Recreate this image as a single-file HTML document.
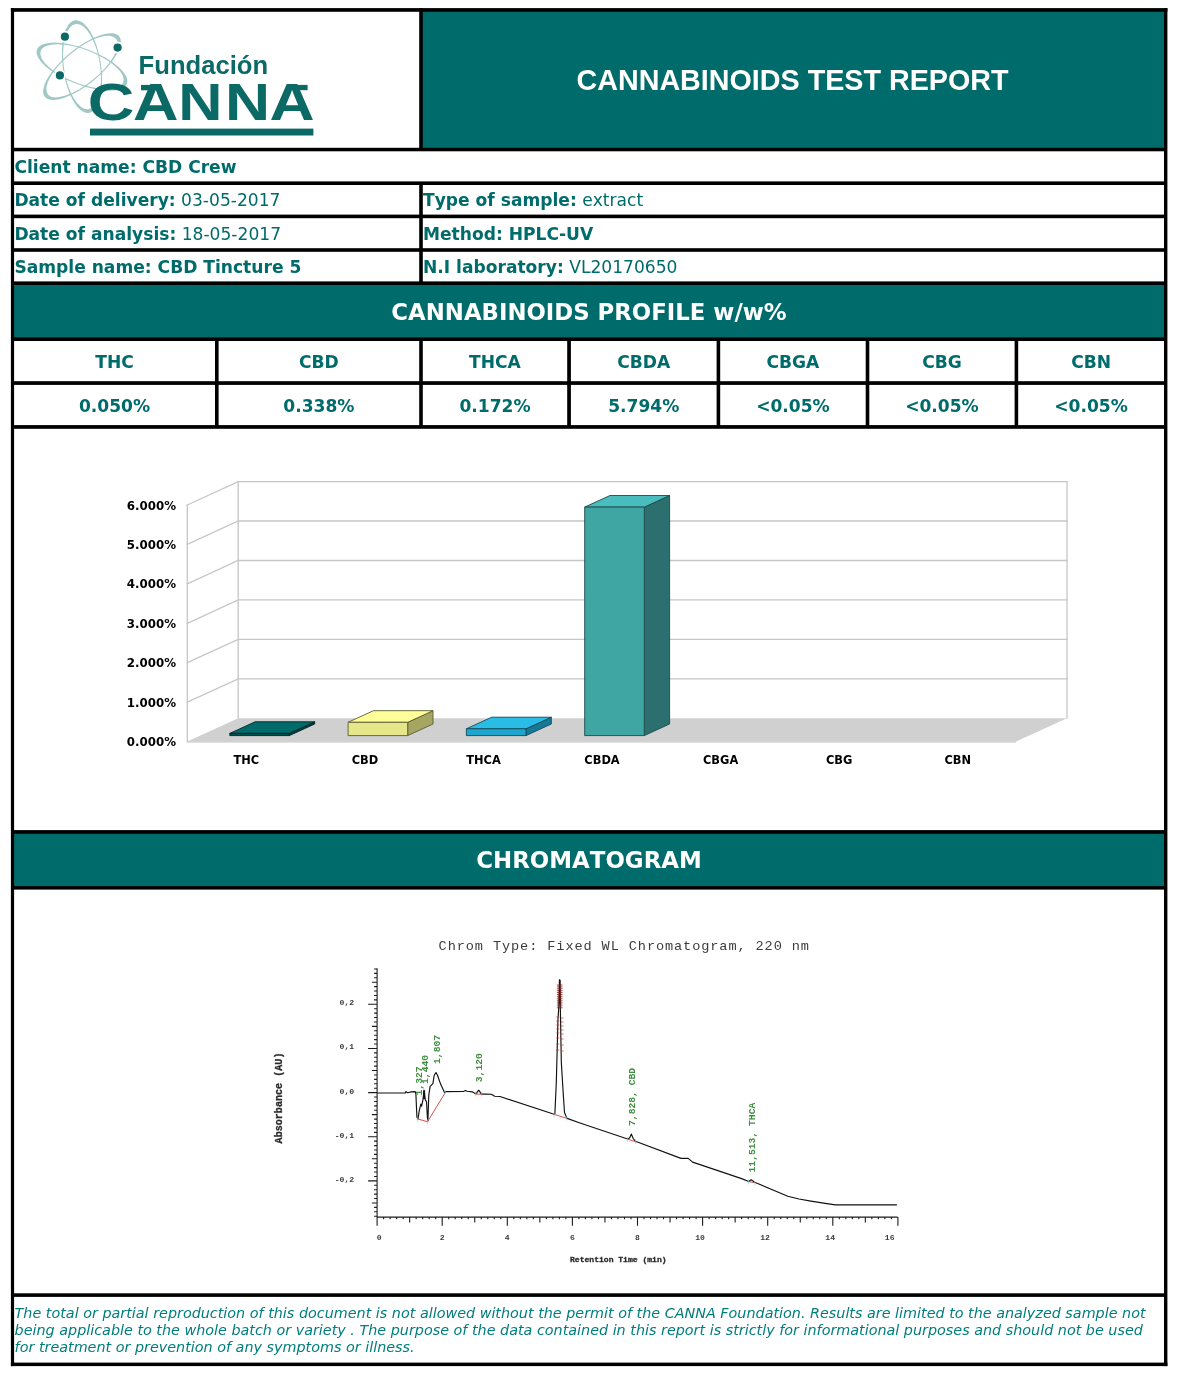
<!DOCTYPE html>
<html lang="en">
<head>
<meta charset="utf-8">
<title>Cannabinoids Test Report</title>
<style>
  html,body{margin:0;padding:0;background:#fff;}
  body{font-kerning:none;width:1178px;height:1381px;position:relative;overflow:hidden;font-family:"DejaVu Sans","Liberation Sans",sans-serif;color:#006b6b;}
  #frame{position:absolute;left:0;top:0;}
  .t{position:absolute;white-space:nowrap;font-size:17.1px;line-height:20px;height:20px;}
  .t b{font-weight:bold;}
  .c{text-align:center;font-weight:bold;}
  .band{position:absolute;color:#fff;font-weight:bold;text-align:center;white-space:nowrap;}
  #title{font-family:"Liberation Sans","DejaVu Sans",sans-serif;font-size:28.7px;line-height:32px;left:422px;width:741px;top:63.9px;}
  #foot{position:absolute;left:14.6px;top:1304.6px;font-size:14.35px;line-height:17px;font-style:italic;color:#007d7d;white-space:nowrap;}
  svg text{font-family:"DejaVu Sans","Liberation Sans",sans-serif;}
  svg .lib text{font-family:"Liberation Sans","DejaVu Sans",sans-serif;font-weight:bold;}
  svg .mono text, svg text.mono{font-family:"Liberation Mono","DejaVu Sans Mono",monospace;}
</style>
</head>
<body>
<!-- FRAME -->
<svg id="frame" width="1178" height="1381" viewBox="0 0 1178 1381">
  <g fill="#006b6b">
    <rect x="421" y="10" width="745" height="140"/>
    <rect x="12" y="283" width="1154" height="57"/>
    <rect x="12" y="832" width="1154" height="56"/>
  </g>
  <g fill="#000">
    <!-- outer -->
    <rect x="10.9" y="8.1" width="1156.5" height="3.7"/>
    <rect x="10.9" y="1362.6" width="1156.5" height="3.5"/>
    <rect x="10.9" y="8.1" width="3.2" height="1358"/>
    <rect x="1164" y="8.1" width="3.4" height="1358"/>
    <!-- horizontals -->
    <rect x="11" y="147.8" width="1156" height="3.5"/>
    <rect x="11" y="181.4" width="1156" height="3.6"/>
    <rect x="11" y="214.6" width="1156" height="3.6"/>
    <rect x="11" y="248.2" width="1156" height="3.6"/>
    <rect x="11" y="281.4" width="1156" height="3.6"/>
    <rect x="11" y="337.4" width="1156" height="3.6"/>
    <rect x="11" y="381.2" width="1156" height="3.7"/>
    <rect x="11" y="425.1" width="1156" height="3.7"/>
    <rect x="11" y="830.1" width="1156" height="3.7"/>
    <rect x="11" y="886.1" width="1156" height="3.5"/>
    <rect x="11" y="1293.3" width="1156" height="3.6"/>
    <!-- verticals -->
    <rect x="419.2" y="8.1" width="3.6" height="141"/>
    <rect x="419.2" y="183" width="3.6" height="100"/>
    <rect x="215" y="339" width="3.6" height="88"/>
    <rect x="419.2" y="339" width="3.6" height="88"/>
    <rect x="567.2" y="339" width="3.7" height="88"/>
    <rect x="716.6" y="339" width="3.6" height="88"/>
    <rect x="865.7" y="339" width="3.6" height="88"/>
    <rect x="1014.6" y="339" width="3.6" height="88"/>
  </g>
</svg>

<!-- HEADER TEXT -->
<div class="band" id="title">CANNABINOIDS TEST REPORT</div>
<div class="t" style="left:14.4px;top:157px"><b>Client name: CBD Crew</b></div>
<div class="t" style="left:14.4px;top:190.2px"><b>Date of delivery:</b> 03-05-2017</div>
<div class="t" style="left:423px;top:190.2px"><b>Type of sample:</b> extract</div>
<div class="t" style="left:14.4px;top:223.8px"><b>Date of analysis:</b> 18-05-2017</div>
<div class="t" style="left:423px;top:223.8px"><b>Method: HPLC-UV</b></div>
<div class="t" style="left:14.4px;top:257.1px"><b>Sample name: CBD Tincture 5</b></div>
<div class="t" style="left:423px;top:257.1px"><b>N.I laboratory:</b> VL20170650</div>

<div class="band" style="left:12px;width:1154px;top:298px;font-size:22.8px;line-height:28px;">CANNABINOIDS PROFILE w/w%</div>

<!-- PROFILE TABLE -->
<div class="t c" style="left:14px;width:201px;top:351.8px">THC</div>
<div class="t c" style="left:218.6px;width:200.6px;top:351.8px">CBD</div>
<div class="t c" style="left:422.8px;width:144.4px;top:351.8px">THCA</div>
<div class="t c" style="left:571px;width:145.6px;top:351.8px">CBDA</div>
<div class="t c" style="left:720.2px;width:145.5px;top:351.8px">CBGA</div>
<div class="t c" style="left:869.3px;width:145.3px;top:351.8px">CBG</div>
<div class="t c" style="left:1018.2px;width:145.8px;top:351.8px">CBN</div>
<div class="t c" style="left:14px;width:201px;top:395.9px">0.050%</div>
<div class="t c" style="left:218.6px;width:200.6px;top:395.9px">0.338%</div>
<div class="t c" style="left:422.8px;width:144.4px;top:395.9px">0.172%</div>
<div class="t c" style="left:571px;width:145.6px;top:395.9px">5.794%</div>
<div class="t c" style="left:720.2px;width:145.5px;top:395.9px">&lt;0.05%</div>
<div class="t c" style="left:869.3px;width:145.3px;top:395.9px">&lt;0.05%</div>
<div class="t c" style="left:1018.2px;width:145.8px;top:395.9px">&lt;0.05%</div>

<div class="band" style="left:12px;width:1154px;top:845.8px;font-size:22.9px;line-height:28px;">CHROMATOGRAM</div>

<!-- LOGO -->
<svg style="position:absolute;left:14px;top:12px" width="405" height="136" viewBox="14 12 405 136">
  <g fill="#a0c9c6" fill-rule="evenodd">
    <path transform="translate(82.0,66.6) rotate(81.5)" d="M-46.90,0 A46.90,19.10 0 1 0 46.90,0 A46.90,19.10 0 1 0 -46.90,0 Z M-43.00,0 A43.00,18.05 0 1 0 43.00,0 A43.00,18.05 0 1 0 -43.00,0 Z"/>
    <path transform="translate(82.0,66.6) rotate(-39.2)" d="M-47.90,0 A47.90,18.10 0 1 0 47.90,0 A47.90,18.10 0 1 0 -47.90,0 Z M-44.00,0 A44.00,17.05 0 1 0 44.00,0 A44.00,17.05 0 1 0 -44.00,0 Z"/>
    <path transform="translate(82.0,66.6) rotate(20.9)" d="M-48.10,0 A48.10,18.10 0 1 0 48.10,0 A48.10,18.10 0 1 0 -48.10,0 Z M-44.20,0 A44.20,17.05 0 1 0 44.20,0 A44.20,17.05 0 1 0 -44.20,0 Z"/>
  </g>
  <g fill="#fff"><circle cx="64.9" cy="36.7" r="6"/><circle cx="117.6" cy="47.6" r="6"/><circle cx="59.9" cy="75.4" r="6"/></g>
  <g fill="#0b6a66">
    <circle cx="64.9" cy="36.7" r="4.1"/>
    <circle cx="117.6" cy="47.6" r="4.1"/>
    <circle cx="59.9" cy="75.4" r="4.1"/>
    <rect x="90" y="128.6" width="223.4" height="6.9"/>
    <rect x="141" y="84.9" width="19" height="5.4"/>
    <rect x="292" y="84.9" width="15.6" height="5.3"/>
    <g class="lib">
      <text x="138.6" y="73.5" font-size="25.1" textLength="129.6" lengthAdjust="spacingAndGlyphs">Fundación</text>
      <g font-size="51.5">
        <text transform="translate(87.66,120.2) scale(1.252,1)">C</text>
        <text transform="translate(133.0,120.2) scale(1.224,1)">A</text>
        <text transform="translate(178.3,120.2) scale(1.189,1)">N</text>
        <text transform="translate(225.0,120.2) scale(1.212,1)">N</text>
        <text transform="translate(269.6,120.2) scale(1.213,1)">A</text>
      </g>
    </g>
  </g>
</svg>

<!-- BAR CHART -->
<!--BC0--><svg style="position:absolute;left:14px;top:429px" width="1150" height="401" viewBox="14 429 1150 401">
<polygon points="187.3,741.6 1016.1,741.6 1067.0,718.2 238.2,718.2" fill="#d0d0d0"/>
<line x1="187.3" y1="742.0" x2="1016.1" y2="742.0" stroke="#c2c2c2" stroke-width="1.2"/>
<g stroke="#c6c6c6" stroke-width="1.3" fill="none" stroke-linecap="square">
<path d="M187.3,702.2 L238.2,678.8 L1067.0,678.8"/>
<path d="M187.3,662.7 L238.2,639.3 L1067.0,639.3"/>
<path d="M187.3,623.3 L238.2,599.9 L1067.0,599.9"/>
<path d="M187.3,583.9 L238.2,560.5 L1067.0,560.5"/>
<path d="M187.3,544.4 L238.2,521.0 L1067.0,521.0"/>
<path d="M187.3,505.0 L238.2,481.6 L1067.0,481.6"/>
<path d="M187.3,505.0 L187.3,741.6"/>
<path d="M238.2,481.6 L238.2,718.2"/>
<path d="M1067.0,481.6 L1067.0,718.2"/>
</g>
<g stroke="#002626" stroke-width="0.9" stroke-linejoin="round">
<polygon fill="#003d3d" points="289.4,733.4 314.7,721.8 314.7,724.0 289.4,735.6"/>
<polygon fill="#006b6b" points="229.8,733.4 255.1,721.8 314.7,721.8 289.4,733.4"/>
<rect fill="#005050" x="229.8" y="733.4" width="59.6" height="2.2"/>
</g>
<g stroke="#5a5a30" stroke-width="0.9" stroke-linejoin="round">
<polygon fill="#a6a664" points="407.7,722.3 433.0,710.7 433.0,724.0 407.7,735.6"/>
<polygon fill="#ffff99" points="348.1,722.3 373.4,710.7 433.0,710.7 407.7,722.3"/>
<rect fill="#e6e68a" x="348.1" y="722.3" width="59.6" height="13.3"/>
</g>
<g stroke="#0e4a5c" stroke-width="0.9" stroke-linejoin="round">
<polygon fill="#167a97" points="526.0,728.8 551.3,717.2 551.3,724.0 526.0,735.6"/>
<polygon fill="#29bde6" points="466.4,728.8 491.7,717.2 551.3,717.2 526.0,728.8"/>
<rect fill="#20a5cc" x="466.4" y="728.8" width="59.6" height="6.8"/>
</g>
<g stroke="#1c4b4a" stroke-width="0.9" stroke-linejoin="round">
<polygon fill="#2b706e" points="644.3,507.1 669.6,495.5 669.6,724.0 644.3,735.6"/>
<polygon fill="#49bdbd" points="584.7,507.1 610.0,495.5 669.6,495.5 644.3,507.1"/>
<rect fill="#40a6a4" x="584.7" y="507.1" width="59.6" height="228.5"/>
</g>
<g font-weight="bold" fill="#000" font-size="11.8">
<text x="176" y="746.1" text-anchor="end">0.000%</text>
<text x="176" y="706.7" text-anchor="end">1.000%</text>
<text x="176" y="667.2" text-anchor="end">2.000%</text>
<text x="176" y="627.8" text-anchor="end">3.000%</text>
<text x="176" y="588.4" text-anchor="end">4.000%</text>
<text x="176" y="548.9" text-anchor="end">5.000%</text>
<text x="176" y="509.5" text-anchor="end">6.000%</text>
</g>
<g font-weight="bold" fill="#000" font-size="11.4" text-anchor="middle">
<text x="246.4" y="764">THC</text>
<text x="364.9" y="764">CBD</text>
<text x="483.5" y="764">THCA</text>
<text x="602.0" y="764">CBDA</text>
<text x="720.6" y="764">CBGA</text>
<text x="839.1" y="764">CBG</text>
<text x="957.7" y="764">CBN</text>
</g>
</svg><!--BC1-->

<!-- CHROMATOGRAM -->
<!--CH0--><svg style="position:absolute;left:14px;top:890px" width="1150" height="403" viewBox="14 890 1150 403">
<text class="mono" x="438.6" y="949.8" font-size="13.6" fill="#3c3c3c" textLength="370.4" lengthAdjust="spacing">Chrom Type: Fixed WL Chromatogram, 220 nm</text>
<path d="M377.1,968.3 V1217.1 H897.6 M374.1,1216.22 H377.1 M374.1,1211.80 H377.1 M374.1,1207.39 H377.1 M371.9,1202.97 H377.1 M374.1,1198.56 H377.1 M374.1,1194.14 H377.1 M374.1,1189.73 H377.1 M374.1,1185.31 H377.1 M368.1,1180.90 H377.1 M374.1,1176.48 H377.1 M374.1,1172.07 H377.1 M374.1,1167.65 H377.1 M374.1,1163.24 H377.1 M371.9,1158.82 H377.1 M374.1,1154.41 H377.1 M374.1,1149.99 H377.1 M374.1,1145.58 H377.1 M374.1,1141.16 H377.1 M368.1,1136.75 H377.1 M374.1,1132.33 H377.1 M374.1,1127.92 H377.1 M374.1,1123.50 H377.1 M374.1,1119.09 H377.1 M371.9,1114.67 H377.1 M374.1,1110.26 H377.1 M374.1,1105.84 H377.1 M374.1,1101.43 H377.1 M374.1,1097.01 H377.1 M368.1,1092.60 H377.1 M374.1,1088.18 H377.1 M374.1,1083.77 H377.1 M374.1,1079.36 H377.1 M374.1,1074.94 H377.1 M371.9,1070.52 H377.1 M374.1,1066.11 H377.1 M374.1,1061.69 H377.1 M374.1,1057.28 H377.1 M374.1,1052.87 H377.1 M368.1,1048.45 H377.1 M374.1,1044.03 H377.1 M374.1,1039.62 H377.1 M374.1,1035.20 H377.1 M374.1,1030.79 H377.1 M371.9,1026.38 H377.1 M374.1,1021.96 H377.1 M374.1,1017.54 H377.1 M374.1,1013.13 H377.1 M374.1,1008.71 H377.1 M368.1,1004.30 H377.1 M374.1,999.88 H377.1 M374.1,995.47 H377.1 M374.1,991.05 H377.1 M374.1,986.64 H377.1 M371.9,982.22 H377.1 M374.1,977.81 H377.1 M374.1,973.39 H377.1 M374.1,968.98 H377.1 M377.10,1217.1 V1225.7 M383.61,1217.1 V1219.3 M390.12,1217.1 V1219.3 M396.63,1217.1 V1219.3 M403.14,1217.1 V1219.3 M409.65,1217.1 V1222.5 M416.16,1217.1 V1219.3 M422.67,1217.1 V1219.3 M429.18,1217.1 V1219.3 M435.69,1217.1 V1219.3 M442.20,1217.1 V1225.7 M448.71,1217.1 V1219.3 M455.22,1217.1 V1219.3 M461.73,1217.1 V1219.3 M468.24,1217.1 V1219.3 M474.75,1217.1 V1222.5 M481.26,1217.1 V1219.3 M487.77,1217.1 V1219.3 M494.28,1217.1 V1219.3 M500.79,1217.1 V1219.3 M507.30,1217.1 V1225.7 M513.81,1217.1 V1219.3 M520.32,1217.1 V1219.3 M526.83,1217.1 V1219.3 M533.34,1217.1 V1219.3 M539.85,1217.1 V1222.5 M546.36,1217.1 V1219.3 M552.87,1217.1 V1219.3 M559.38,1217.1 V1219.3 M565.89,1217.1 V1219.3 M572.40,1217.1 V1225.7 M578.91,1217.1 V1219.3 M585.42,1217.1 V1219.3 M591.93,1217.1 V1219.3 M598.44,1217.1 V1219.3 M604.95,1217.1 V1222.5 M611.46,1217.1 V1219.3 M617.97,1217.1 V1219.3 M624.48,1217.1 V1219.3 M630.99,1217.1 V1219.3 M637.50,1217.1 V1225.7 M644.01,1217.1 V1219.3 M650.52,1217.1 V1219.3 M657.03,1217.1 V1219.3 M663.54,1217.1 V1219.3 M670.05,1217.1 V1222.5 M676.56,1217.1 V1219.3 M683.07,1217.1 V1219.3 M689.58,1217.1 V1219.3 M696.09,1217.1 V1219.3 M702.60,1217.1 V1225.7 M709.11,1217.1 V1219.3 M715.62,1217.1 V1219.3 M722.13,1217.1 V1219.3 M728.64,1217.1 V1219.3 M735.15,1217.1 V1222.5 M741.66,1217.1 V1219.3 M748.17,1217.1 V1219.3 M754.68,1217.1 V1219.3 M761.19,1217.1 V1219.3 M767.70,1217.1 V1225.7 M774.21,1217.1 V1219.3 M780.72,1217.1 V1219.3 M787.23,1217.1 V1219.3 M793.74,1217.1 V1219.3 M800.25,1217.1 V1222.5 M806.76,1217.1 V1219.3 M813.27,1217.1 V1219.3 M819.78,1217.1 V1219.3 M826.29,1217.1 V1219.3 M832.80,1217.1 V1225.7 M839.31,1217.1 V1219.3 M845.82,1217.1 V1219.3 M852.33,1217.1 V1219.3 M858.84,1217.1 V1219.3 M865.35,1217.1 V1222.5 M871.86,1217.1 V1219.3 M878.37,1217.1 V1219.3 M884.88,1217.1 V1219.3 M891.39,1217.1 V1219.3 M897.90,1217.1 V1225.7" stroke="#1c1c1c" stroke-width="1.1" fill="none"/>
<g class="mono" font-size="8.1" font-weight="bold" fill="#3a3a3a">
<text x="354.2" y="1005.3" text-anchor="end">0,2</text>
<text x="354.2" y="1049.4" text-anchor="end">0,1</text>
<text x="354.2" y="1093.6" text-anchor="end">0,0</text>
<text x="354.2" y="1137.8" text-anchor="end">-0,1</text>
<text x="354.2" y="1181.9" text-anchor="end">-0,2</text>
<text x="379.3" y="1239.7" text-anchor="middle">0</text>
<text x="442.2" y="1239.7" text-anchor="middle">2</text>
<text x="507.3" y="1239.7" text-anchor="middle">4</text>
<text x="572.4" y="1239.7" text-anchor="middle">6</text>
<text x="637.5" y="1239.7" text-anchor="middle">8</text>
<text x="700.0" y="1239.7" text-anchor="middle">10</text>
<text x="765.1" y="1239.7" text-anchor="middle">12</text>
<text x="830.2" y="1239.7" text-anchor="middle">14</text>
<text x="889.7" y="1239.7" text-anchor="middle">16</text>
</g>
<g class="mono" font-weight="bold" fill="#2a2a2a" stroke="#2a2a2a" stroke-width="0.3">
<text x="618.3" y="1261.6" font-size="8.05" text-anchor="middle">Retention Time (min)</text>
<text transform="translate(281.5,1098) rotate(-90)" font-size="10.1" text-anchor="middle">Absorbance (AU)</text>
</g>
<polyline fill="none" stroke="#111" stroke-width="1.15" stroke-linejoin="round" points="377.1,1093.0 405.3,1093.0 405.9,1091.6 407.5,1092.7 411.4,1091.9 415.2,1091.6 415.9,1094.1 416.9,1117.2 418.0,1118.9 419.1,1111.7 420.8,1104.0 421.6,1106.2 423.0,1099.6 424.1,1090.2 425.2,1099.6 426.5,1101.8 427.4,1117.2 427.9,1121.1 428.8,1095.2 430.1,1086.3 432.9,1083.6 434.2,1075.3 436.0,1072.6 437.5,1075.3 440.6,1084.1 444.5,1092.4 446.1,1091.6 463.8,1091.3 465.5,1090.5 467.1,1091.3 472.6,1091.9 475.9,1093.9 478.7,1090.2 481.5,1094.1 485.9,1094.1 491.4,1094.3 494.7,1096.3 500.0,1096.5 554.1,1114.3 554.9,1113.5 556.3,1082.5 558.0,1018.7 558.9,1005.6 559.7,979.6 560.3,1005.6 561.3,1061.7 563.2,1093.0 564.5,1112.5 567.1,1118.4 580.0,1123.0 627.6,1139.0 629.6,1138.0 631.4,1134.1 633.2,1138.5 635.4,1141.3 681.0,1158.4 688.2,1158.4 692.6,1162.1 741.6,1178.6 748.8,1181.5 751.1,1179.8 754.6,1182.3 787.8,1196.2 799.0,1199.0 810.9,1201.1 825.3,1203.4 835.4,1204.9 896.9,1204.9"/>
<path d="M424.1,1090.5 V1099" stroke="#111" stroke-width="2" fill="none"/>
<path d="M559.7,980 V1004" stroke="#111" stroke-width="1.8" fill="none"/>
<path d="M417.5,1118.9 L427.4,1121.7 M427.9,1121.1 L445,1093 M475.9,1094 L481.6,1094.3 M554.1,1114.4 L566.5,1118.2 M627.6,1139.2 L635.4,1141.6 M748.8,1181.7 L754.6,1182.6" stroke="#d23a3a" stroke-width="0.9" fill="none"/>
<path d="M556.9,985.0 h5.6 M556.9,986.9 h5.6 M556.9,988.8 h5.6 M556.9,990.7 h5.6 M556.9,992.6 h5.6 M556.9,994.5 h5.6 M556.9,996.4 h5.6 M556.9,998.3 h5.6 M556.9,1000.2 h5.6 M556.9,1002.1 h5.6 M556.9,1004.0 h5.6 M556.9,1005.9 h5.6 M556.9,1007.8 h5.6" stroke="#8a1c1c" stroke-width="0.9" fill="none" opacity="0.9"/>
<path d="M556.2,1017 h3.2 M560.6,1018 h3.0 M556.2,1021 h3.2 M560.6,1022 h3.0 M556.2,1025 h3.2 M560.6,1026 h3.0 M556.2,1029 h3.2 M560.6,1030 h3.0 M556.2,1033 h3.2 M560.6,1034 h3.0 M556.2,1038 h3.2 M560.6,1039 h3.0 M556.2,1044 h3.2 M560.6,1045 h3.0 M556.2,1050 h3.2 M560.6,1051 h3.0" stroke="#c0392b" stroke-width="0.8" fill="none" opacity="0.85"/>
<path d="M417.3,1116.5 v5 M427.6,1119.5 v5 M445,1089.5 v5 M421.2,1091.5 v5 M475.6,1091.5 v5 M481.8,1091.5 v5 M554,1112.5 v5 M566.8,1115.5 v5 M627.4,1137.0 v5 M635.6,1139.0 v5 M748.5,1179.5 v5 M754.9,1180.5 v5" stroke="#7fd0d0" stroke-width="0.8" fill="none" opacity="0.8"/>
<g class="mono" font-size="9.7" font-weight="bold" fill="#3d8f3d">
<text transform="translate(422.3,1095.5) rotate(-90)">1,327</text>
<text transform="translate(427.9,1084) rotate(-90)">1,440</text>
<text transform="translate(439.9,1064) rotate(-90)">1,807</text>
<text transform="translate(482.3,1082.2) rotate(-90)">3,120</text>
<text transform="translate(634.5,1126) rotate(-90)">7,828, CBD</text>
<text transform="translate(754.9,1172.5) rotate(-90)">11,513, THCA</text>
</g>
</svg><!--CH1-->

<!-- FOOTER -->
<div id="foot">The total or partial reproduction of this document is not allowed without the permit of the CANNA Foundation. Results are limited to the analyzed sample not<br>being applicable to the whole batch or variety . The purpose of the data contained in this report is strictly for informational purposes and should not be used<br>for treatment or prevention of any symptoms or illness.</div>
</body>
</html>
